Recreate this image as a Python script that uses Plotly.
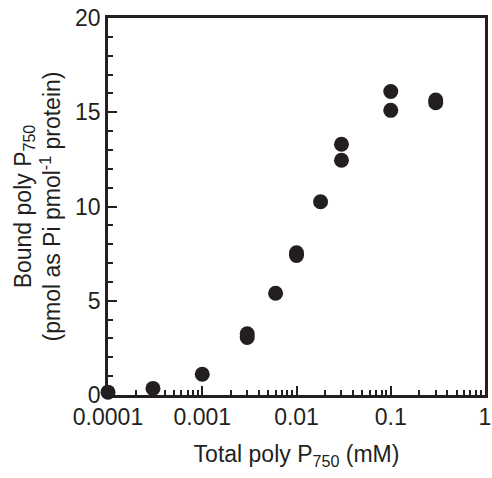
import plotly.graph_objects as go

total_polyp = [0.0001, 0.0003, 0.001, 0.003, 0.003, 0.006, 0.01, 0.01, 0.018, 0.03, 0.03, 0.1, 0.1, 0.3, 0.3]
bound_polyp = [0.15, 0.35, 1.1, 3.05, 3.25, 5.4, 7.4, 7.55, 10.25, 12.45, 13.3, 15.1, 16.1, 15.5, 15.65]

x_tickvals = [0.0001, 0.001, 0.01, 0.1, 1]
x_ticktext = ["0.0001", "0.001", "0.01", "0.1", "1"]
y_tickvals = [0, 5, 10, 15, 20]

x_minor = [m * 10 ** e for e in range(-4, 0) for m in range(2, 10)]

ink = "#231f20"
fig = go.Figure()
fig.add_trace(go.Scatter(
    x=total_polyp, y=bound_polyp, mode="markers",
    marker=dict(color=ink, size=15, line=dict(width=0)),
    cliponaxis=False, showlegend=False,
))

fig.update_layout(
    width=492, height=478,
    margin=dict(l=108, r=7, t=18, b=83),
    paper_bgcolor="white", plot_bgcolor="white",
    font=dict(family="Liberation Sans, Arial, sans-serif", color=ink, size=23),
    xaxis=dict(
        type="log", range=[-4, 0], automargin=False,
        tickvals=x_tickvals, ticktext=x_ticktext,
        ticks="inside", ticklen=9, tickwidth=2, tickcolor=ink,
        minor=dict(tickvals=x_minor, ticks="inside", ticklen=5, tickwidth=1.5, tickcolor=ink),
        showline=True, linewidth=2.5, linecolor=ink, mirror=True,
        showgrid=False, zeroline=False,
        tickfont=dict(size=23),
        title=dict(text="Total poly P<sub>750</sub> (mM)", font=dict(size=23), standoff=17),
    ),
    yaxis=dict(
        range=[0, 20], automargin=False,
        tickvals=y_tickvals,
        ticks="inside", ticklen=9, tickwidth=2, tickcolor=ink,
        minor=dict(dtick=1, ticks="inside", ticklen=5, tickwidth=1.5, tickcolor=ink, showgrid=False),
        showline=True, linewidth=2.5, linecolor=ink, mirror=True,
        showgrid=False, zeroline=False,
        tickfont=dict(size=23),
        title=dict(text="Bound poly P<sub>750</sub><br>(pmol as Pi pmol<sup>-1</sup> protein)", font=dict(size=23), standoff=8),
    ),
)

fig.write_html(
    "out.html",
    config={"displayModeBar": False},
    post_script="document.body.style.margin='0';document.body.style.overflow='hidden';",
)
